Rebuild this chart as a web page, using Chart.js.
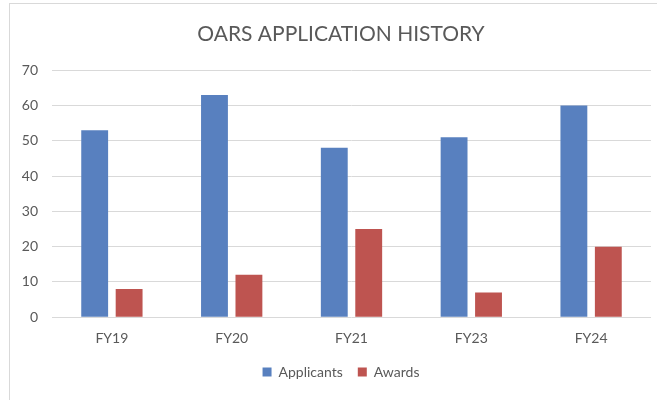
<!DOCTYPE html>
<html>
<head>
<meta charset="utf-8">
<script src="https://cdn.jsdelivr.net/npm/chart.js@4.4.1/dist/chart.umd.min.js"></script>
<style>
  html, body { margin: 0; padding: 0; background: #ffffff; overflow: hidden; }
  #frame { position: absolute; left: 9px; top: 3px; width: 700px; height: 420px;
           border-left: 1px solid #d9d9d9; border-top: 1px solid #d9d9d9; }
  #wrap { position: absolute; left: 0; top: 0; width: 657px; height: 400px; }
</style>
</head>
<body>
<div id="frame"></div>
<div id="wrap"><canvas id="c" width="657" height="400"></canvas></div>
<script>
const categories = ["FY19", "FY20", "FY21", "FY23", "FY24"];
const applicants = [53, 63, 48, 51, 60];
const awards = [8, 12, 25, 7, 20];
const yTicks = [0, 10, 20, 30, 40, 50, 60, 70];

const FONT = "Lato, 'Open Sans', sans-serif";
const TXT = "#595959";

const widenYLabelArea = {
  id: "widenYLabelArea",
  afterLayout(chart) {
    const y = chart.scales.y;
    if (y) { y.left = 0; }
  }
};

new Chart(document.getElementById("c"), {
  type: "bar",
  data: {
    labels: categories,
    datasets: [
      { label: "Applicants", data: applicants, backgroundColor: "#5880BF",
        categoryPercentage: 0.575, barPercentage: 0.78 },
      { label: "Awards", data: awards, backgroundColor: "#BE5450",
        categoryPercentage: 0.575, barPercentage: 0.78 }
    ]
  },
  plugins: [widenYLabelArea],
  options: {
    responsive: false,
    animation: false,
    layout: { padding: { left: 31, right: 6, top: 0, bottom: 11 } },
    plugins: {
      title: {
        display: true,
        text: "OARS APPLICATION HISTORY",
        color: TXT,
        font: { family: FONT, size: 21, weight: "normal" },
        padding: { top: 22, bottom: 23 }
      },
      legend: {
        position: "bottom",
        labels: {
          color: TXT,
          font: { family: FONT, size: 14 },
          boxWidth: 9, boxHeight: 9,
          padding: 15
        }
      },
      tooltip: { enabled: false }
    },
    scales: {
      x: {
        grid: { display: false, drawTicks: false },
        border: { display: false },
        ticks: { color: TXT, font: { family: FONT, size: 14 }, padding: 13 },
        afterFit: (s) => { s.height -= 10; }
      },
      y: {
        min: 0, max: 70,
        afterBuildTicks: (s) => { s.ticks = yTicks.map(v => ({ value: v })); },
        grid: { color: "#d9d9d9", lineWidth: 1, drawTicks: false },
        border: { display: false },
        ticks: { color: TXT, font: { family: FONT, size: 14 }, padding: 14 },
        afterFit: (s) => { s.width = 21; }
      }
    }
  }
});
</script>
</body>
</html>
